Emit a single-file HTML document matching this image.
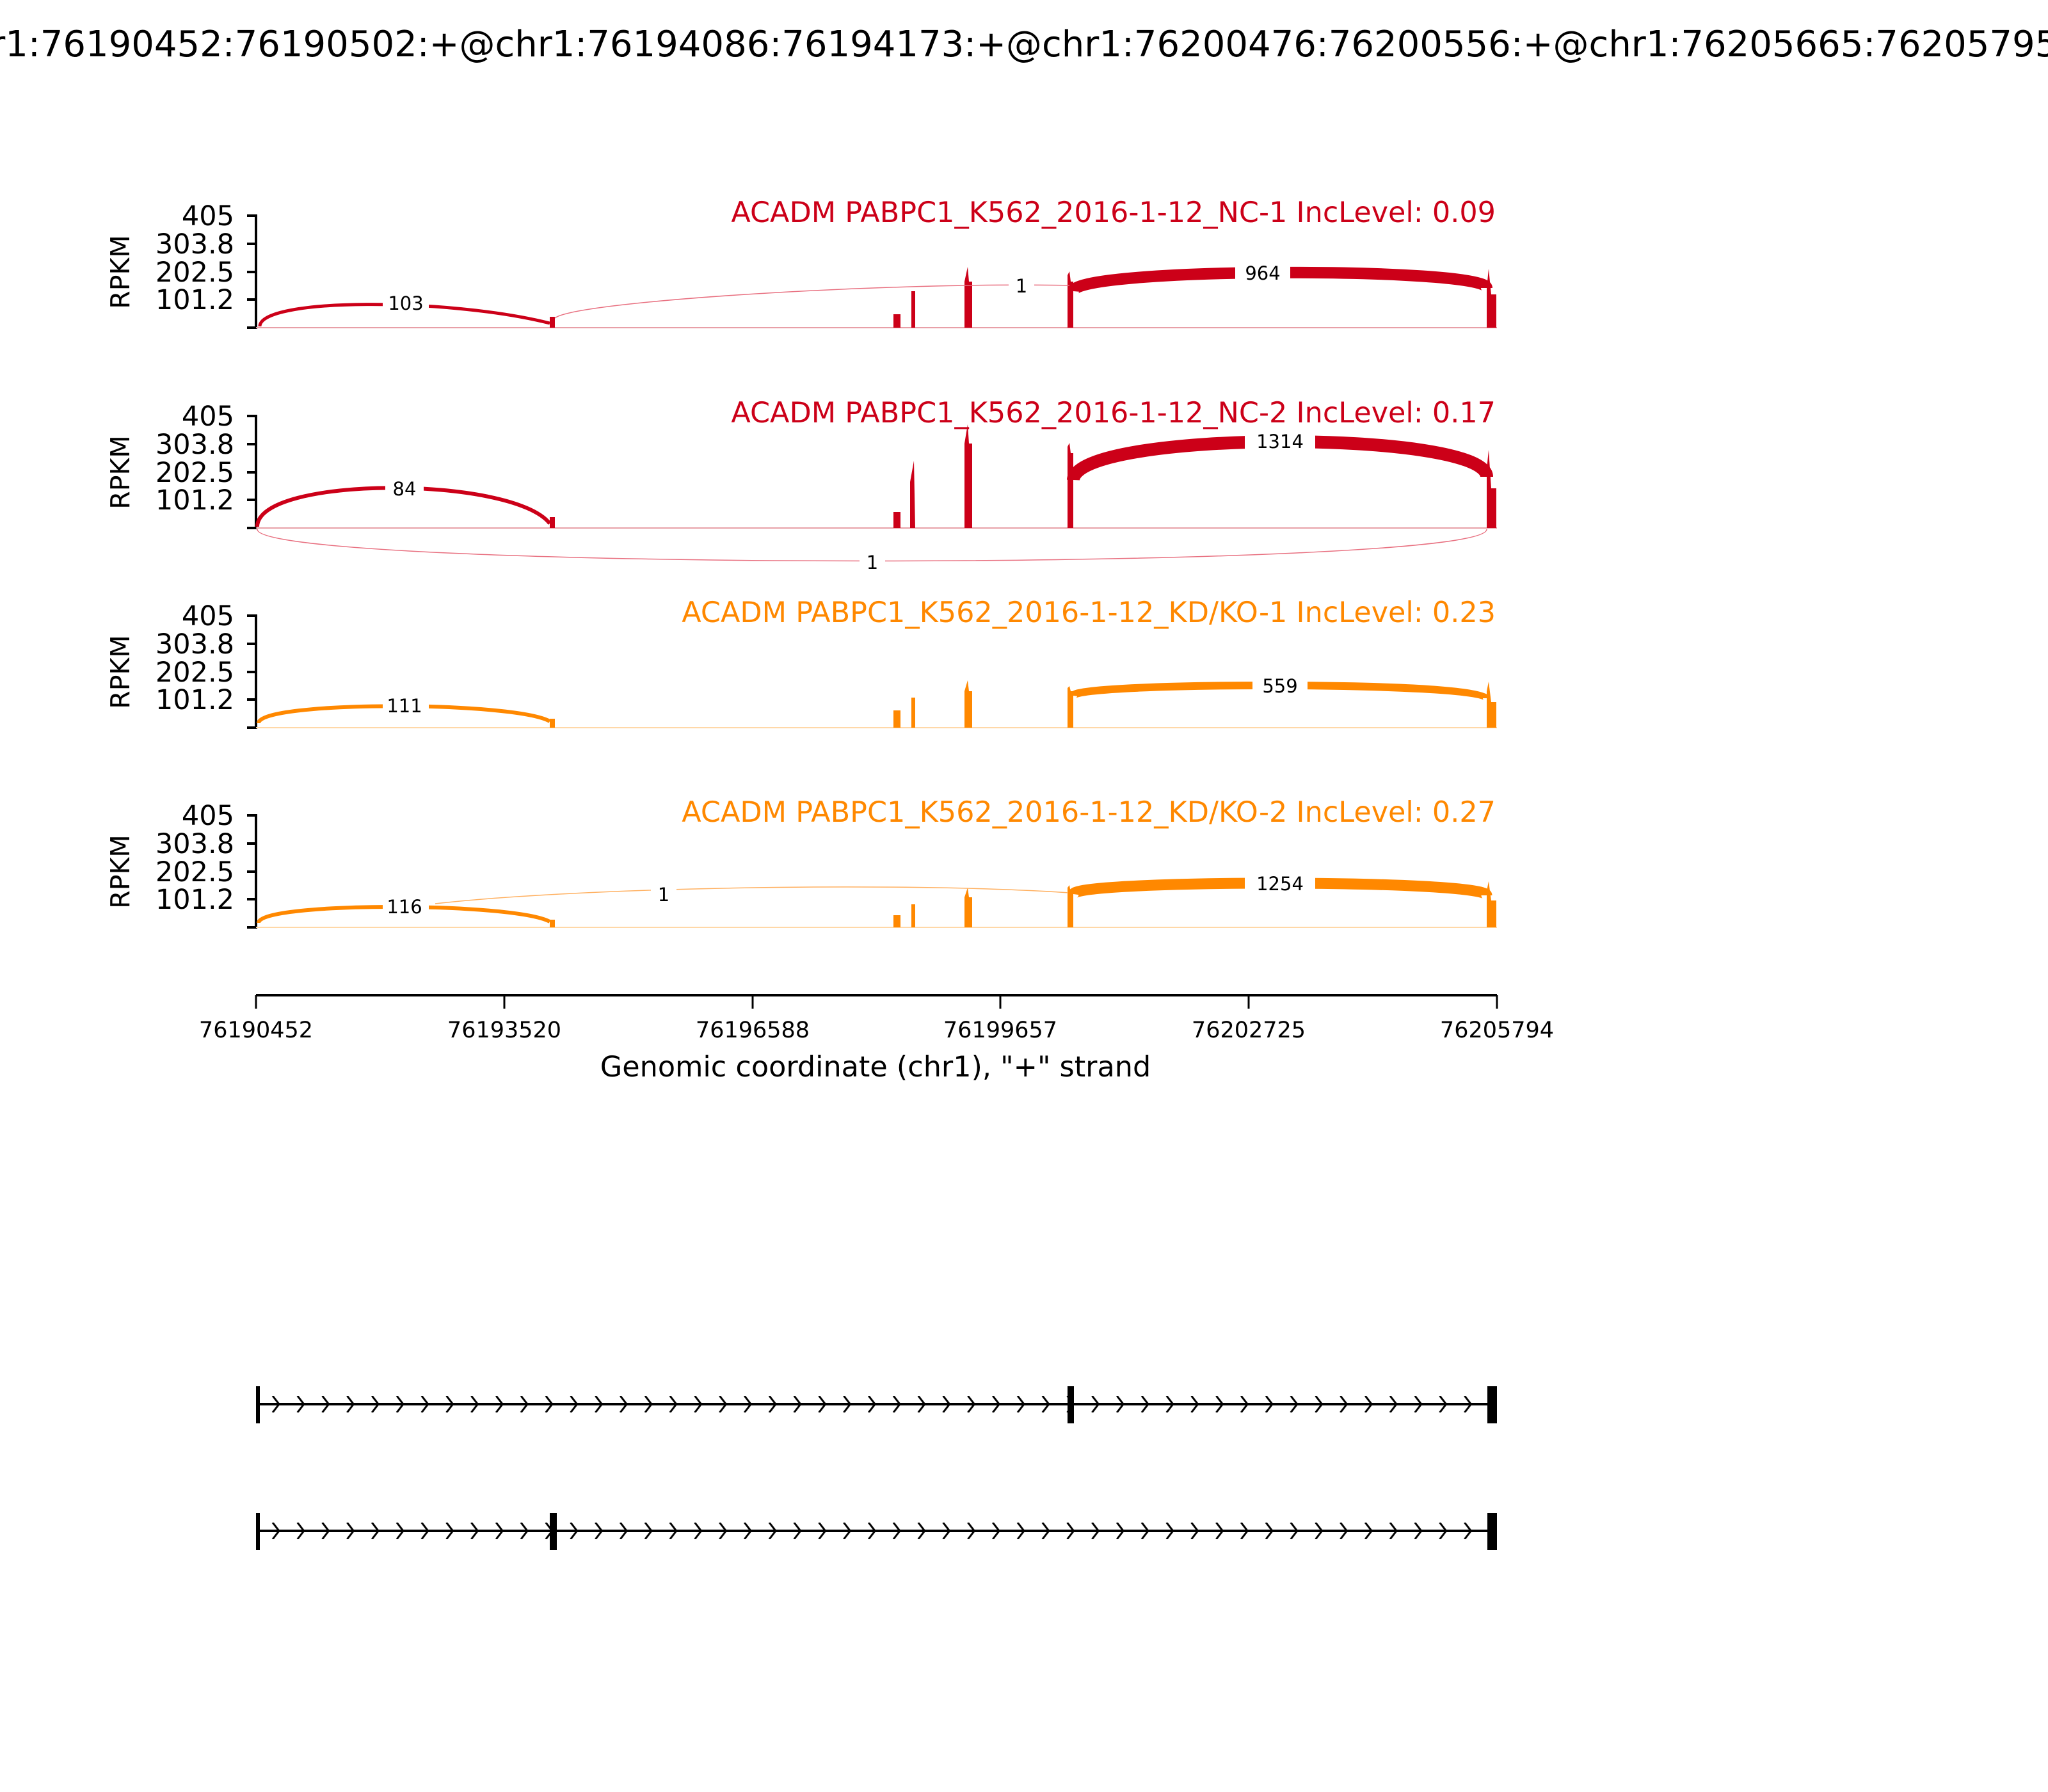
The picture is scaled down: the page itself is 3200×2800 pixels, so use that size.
<!DOCTYPE html>
<html><head><meta charset="utf-8"><style>
html,body{margin:0;padding:0;background:#fff}
svg{display:block}
text{font-family:"DejaVu Sans","Liberation Sans",sans-serif}
</style></head><body>
<svg width="3200" height="2800" viewBox="0 0 3200 2800" xmlns="http://www.w3.org/2000/svg">
<defs>
<pattern id="chev1" x="400" y="2181" width="38.8" height="26" patternUnits="userSpaceOnUse">
<polyline points="26,0 36,13 26,26" fill="none" stroke="#000" stroke-width="3"/>
</pattern>
<pattern id="chev2" x="400" y="2379" width="38.8" height="26" patternUnits="userSpaceOnUse">
<polyline points="26,0 36,13 26,26" fill="none" stroke="#000" stroke-width="3"/>
</pattern>
<g id="axis">
<line x1="400" y1="335" x2="400" y2="514" stroke="#000" stroke-width="4"/>
<g stroke="#000" stroke-width="4">
<line x1="386" y1="337" x2="400" y2="337"/><line x1="386" y1="381" x2="400" y2="381"/>
<line x1="386" y1="425" x2="400" y2="425"/><line x1="386" y1="468" x2="400" y2="468"/>
<line x1="386" y1="512" x2="400" y2="512"/></g>
<g font-size="43" text-anchor="end" fill="#000">
<text x="366" y="352">405</text><text x="366" y="396">303.8</text>
<text x="366" y="440">202.5</text><text x="366" y="483">101.2</text></g>
<text transform="translate(202,425) rotate(-90)" font-size="41" text-anchor="middle">RPKM</text>
</g>
</defs>

<text x="1600" y="88" font-size="56" text-anchor="middle">chr1:76190452:76190502:+@chr1:76194086:76194173:+@chr1:76200476:76200556:+@chr1:76205665:76205795:+</text>

<!-- Panel 1 -->
<g>
<use href="#axis"/>
<line x1="400" y1="512" x2="2339" y2="512" stroke="#e8a0a8" stroke-width="2"/>
<text x="2337" y="347" font-size="44.5" fill="#cc0018" text-anchor="end">ACADM PABPC1_K562_2016-1-12_NC-1 IncLevel: 0.09</text>
<g fill="#cc0018">
<rect x="859" y="495" width="8" height="17"/>
<rect x="1396" y="491" width="11" height="21"/>
<rect x="1424" y="455" width="6" height="57"/>
<polygon points="1507,512 1507,440 1512,417 1514,440 1519,440 1519,512"/>
<polygon points="1668,512 1668,430 1671,424 1673,440 1677,440 1677,512"/>
<polygon points="2323,512 2323,450 2326,420 2330,460 2338,460 2338,512"/>
</g>
<path d="M406,510 C406,465 700,465 859,505" fill="none" stroke="#cc0018" stroke-width="5"/>
<path d="M867,497 C900,470 1400,440 1671,446" fill="none" stroke="#e87080" stroke-width="1.5"/>
<path d="M1677,455 C1680,417 2323,417 2323,450" fill="none" stroke="#cc0018" stroke-width="18"/>
<rect x="598" y="455" width="72" height="36" fill="#fff"/><text x="634" y="484" font-size="29" text-anchor="middle">103</text>
<rect x="1576" y="428" width="40" height="36" fill="#fff"/><text x="1596" y="457" font-size="29" text-anchor="middle">1</text>
<rect x="1930" y="408" width="86" height="36" fill="#fff"/><text x="1973" y="437" font-size="29" text-anchor="middle">964</text>
</g>

<!-- Panel 2 -->
<g transform="translate(0,313)">
<use href="#axis"/>
<line x1="400" y1="512" x2="2339" y2="512" stroke="#e8a0a8" stroke-width="2"/>
<text x="2337" y="347" font-size="44.5" fill="#cc0018" text-anchor="end">ACADM PABPC1_K562_2016-1-12_NC-2 IncLevel: 0.17</text>
<g fill="#cc0018">
<rect x="859" y="495" width="8" height="17"/>
<rect x="1396" y="487" width="11" height="25"/>
<polygon points="1422,512 1422,440 1428,407 1430,512"/>
<polygon points="1507,512 1507,380 1512,350 1514,380 1519,380 1519,512"/>
<polygon points="1668,512 1668,385 1671,379 1673,395 1677,395 1677,512"/>
<polygon points="2323,512 2323,420 2326,390 2330,450 2338,450 2338,512"/>
</g>
<path d="M402,510 C402,430 800,430 859,505" fill="none" stroke="#cc0018" stroke-width="6"/>
<path d="M402,514 C402,580 2323,580 2323,514" fill="none" stroke="#e87080" stroke-width="1.5"/>
<path d="M1677,437 C1680,358 2323,358 2323,432" fill="none" stroke="#cc0018" stroke-width="20"/>
<rect x="602" y="432" width="60" height="36" fill="#fff"/><text x="632" y="461" font-size="29" text-anchor="middle">84</text>
<rect x="1343" y="547" width="40" height="36" fill="#fff"/><text x="1363" y="576" font-size="29" text-anchor="middle">1</text>
<rect x="1945" y="358" width="110" height="36" fill="#fff"/><text x="2000" y="387" font-size="29" text-anchor="middle">1314</text>
</g>

<!-- Panel 3 -->
<g transform="translate(0,625)">
<use href="#axis"/>
<line x1="400" y1="512" x2="2339" y2="512" stroke="#ffd8a8" stroke-width="2"/>
<text x="2337" y="347" font-size="44.5" fill="#ff8800" text-anchor="end">ACADM PABPC1_K562_2016-1-12_KD/KO-1 IncLevel: 0.23</text>
<g fill="#ff8800">
<rect x="859" y="498" width="8" height="14"/>
<rect x="1396" y="485" width="11" height="27"/>
<rect x="1424" y="465" width="6" height="47"/>
<polygon points="1507,512 1507,455 1512,438 1514,455 1519,455 1519,512"/>
<polygon points="1668,512 1668,450 1671,447 1673,455 1677,455 1677,512"/>
<polygon points="2323,512 2323,455 2326,440 2330,472 2338,472 2338,512"/>
</g>
<path d="M404,505 C404,470 800,470 859,502" fill="none" stroke="#ff8800" stroke-width="6"/>
<path d="M1677,462 C1680,440 2323,440 2323,466" fill="none" stroke="#ff8800" stroke-width="12"/>
<rect x="598" y="459" width="72" height="36" fill="#fff"/><text x="632" y="488" font-size="29" text-anchor="middle">111</text>
<rect x="1957" y="428" width="86" height="36" fill="#fff"/><text x="2000" y="457" font-size="29" text-anchor="middle">559</text>
</g>

<!-- Panel 4 -->
<g transform="translate(0,937)">
<use href="#axis"/>
<line x1="400" y1="512" x2="2339" y2="512" stroke="#ffd8a8" stroke-width="2"/>
<text x="2337" y="347" font-size="44.5" fill="#ff8800" text-anchor="end">ACADM PABPC1_K562_2016-1-12_KD/KO-2 IncLevel: 0.27</text>
<g fill="#ff8800">
<rect x="859" y="500" width="8" height="12"/>
<rect x="1396" y="493" width="11" height="19"/>
<rect x="1424" y="476" width="6" height="36"/>
<polygon points="1507,512 1507,465 1512,450 1514,465 1519,465 1519,512"/>
<polygon points="1668,512 1668,450 1671,446 1673,458 1677,458 1677,512"/>
<polygon points="2323,512 2323,455 2326,440 2330,470 2338,470 2338,512"/>
</g>
<path d="M680,475 C900,450 1400,440 1671,458" fill="none" stroke="#ffb060" stroke-width="1.5"/>
<path d="M404,505 C404,472 800,472 859,503" fill="none" stroke="#ff8800" stroke-width="6"/>
<path d="M1677,460 C1680,437 2323,437 2323,462" fill="none" stroke="#ff8800" stroke-width="17"/>
<rect x="598" y="461" width="72" height="36" fill="#fff"/><text x="632" y="490" font-size="29" text-anchor="middle">116</text>
<rect x="1017" y="442" width="40" height="36" fill="#fff"/><text x="1037" y="471" font-size="29" text-anchor="middle">1</text>
<rect x="1945" y="425" width="110" height="36" fill="#fff"/><text x="2000" y="454" font-size="29" text-anchor="middle">1254</text>
</g>

<!-- X axis -->
<line x1="400" y1="1555" x2="2339" y2="1555" stroke="#000" stroke-width="4"/>
<g stroke="#000" stroke-width="3">
<line x1="400" y1="1555" x2="400" y2="1576"/><line x1="788" y1="1555" x2="788" y2="1576"/>
<line x1="1176" y1="1555" x2="1176" y2="1576"/><line x1="1563" y1="1555" x2="1563" y2="1576"/>
<line x1="1951" y1="1555" x2="1951" y2="1576"/><line x1="2339" y1="1555" x2="2339" y2="1576"/></g>
<g font-size="35" text-anchor="middle">
<text x="400" y="1621">76190452</text><text x="788" y="1621">76193520</text>
<text x="1176" y="1621">76196588</text><text x="1563" y="1621">76199657</text>
<text x="1951" y="1621">76202725</text><text x="2339" y="1621">76205794</text></g>
<text x="1368" y="1682" font-size="44.5" text-anchor="middle">Genomic coordinate (chr1), "+" strand</text>

<!-- Gene tracks -->
<g>
<line x1="400" y1="2194" x2="2339" y2="2194" stroke="#000" stroke-width="4"/>
<rect x="400" y="2181" width="1923" height="26" fill="url(#chev1)"/>
<rect x="400" y="2166" width="6" height="58" fill="#000"/>
<rect x="1668" y="2166" width="10" height="58" fill="#000"/>
<rect x="2324" y="2166" width="15" height="58" fill="#000"/>
</g>
<g>
<line x1="400" y1="2392" x2="2339" y2="2392" stroke="#000" stroke-width="4"/>
<rect x="400" y="2379" width="1923" height="26" fill="url(#chev2)"/>
<rect x="400" y="2364" width="6" height="58" fill="#000"/>
<rect x="859" y="2364" width="11" height="58" fill="#000"/>
<rect x="2324" y="2364" width="15" height="58" fill="#000"/>
</g>
</svg>
</body></html>
